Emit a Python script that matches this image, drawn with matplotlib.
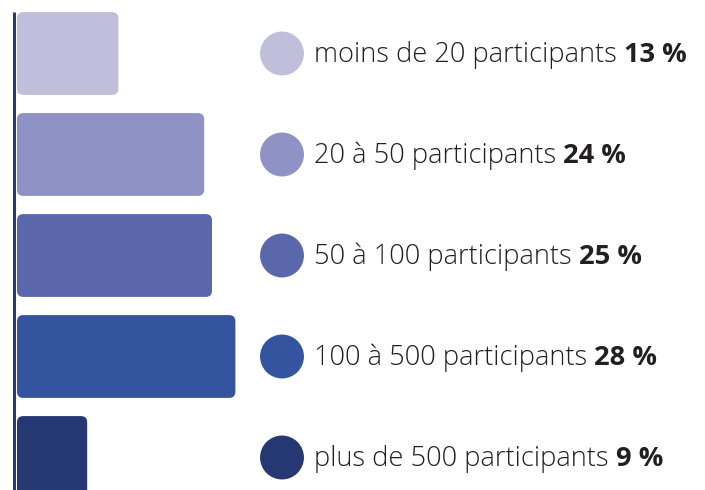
import matplotlib
matplotlib.use("Agg")
import matplotlib.pyplot as plt
from matplotlib.patches import FancyBboxPatch

labels = ["moins de 20 participants", "20 à 50 participants", "50 à 100 participants",
          "100 à 500 participants", "plus de 500 participants"]
values = [13, 24, 25, 28, 9]
pct_labels = ["13 %", "24 %", "25 %", "28 %", "9 %"]
colors = ["#bfbfdc", "#8f92c4", "#5b67ab", "#3454a0", "#263873"]

W, H = 705, 490
PX_PER_UNIT = 7.8      # pixels per percent
X0 = 17                # pixel position of zero
PITCH = 101            # pixels between bar centers
Y0 = 53.5              # pixel center of first bar
BAR_H = 0.82

fig = plt.figure(figsize=(W / 100, H / 100), dpi=100)
ax = fig.add_axes([0, 0, 1, 1])
ax.set_xlim(-X0 / PX_PER_UNIT, (W - X0) / PX_PER_UNIT)
ax.set_ylim((H - Y0) / PITCH, -Y0 / PITCH)
ax.axis("off")

aspect = PX_PER_UNIT / PITCH
for i, (v, c) in enumerate(zip(values, colors)):
    box = FancyBboxPatch((0, i - BAR_H / 2), v, BAR_H,
                         boxstyle="round,pad=0,rounding_size=0.8",
                         mutation_aspect=aspect, fc=c, ec="none")
    ax.add_patch(box)

# vertical axis line
ax.plot([-3 / PX_PER_UNIT] * 2, [-0.41, 5], color="#2b3a6e", lw=2.2,
        solid_capstyle="butt", clip_on=False)

# legend circles and labels
trans = ax.get_yaxis_transform()
ax.scatter([282 / W] * len(values), range(len(values)), s=1000, c=colors,
           transform=trans, linewidths=0)
for i, (lab, p) in enumerate(zip(labels, pct_labels)):
    y = i + 0.085
    t = ax.text(314 / W, y, lab + " ", transform=trans, va="baseline", ha="left",
                fontsize=19.6, family="Open Sans", weight="light", color="#231f20")
    ax.annotate(p, xy=(1, y), xycoords=(t, trans), va="baseline", ha="left",
                fontsize=19.6, family="Open Sans", weight="bold", color="#231f20")

fig.savefig("out.png", dpi=100)
